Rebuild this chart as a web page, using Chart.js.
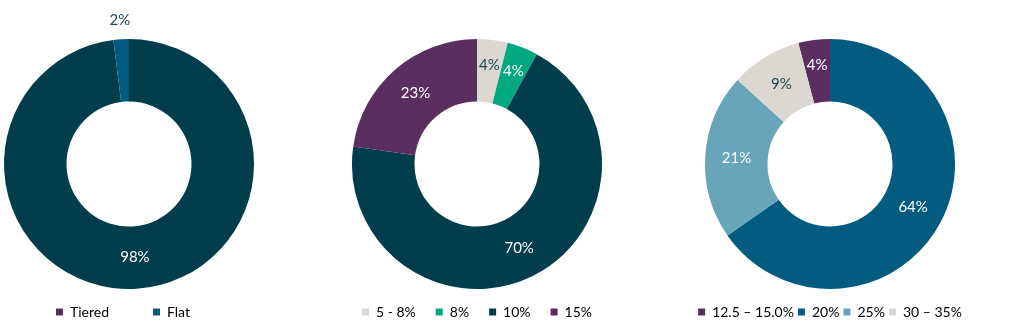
<!DOCTYPE html>
<html>
<head>
<meta charset="utf-8">
<script src="https://cdn.jsdelivr.net/npm/chart.js@4/dist/chart.umd.min.js"></script>
<style>
  html, body { margin: 0; padding: 0; background: #fff; overflow: hidden; }
  body { width: 1024px; height: 331px; position: relative; }
  .box { position: absolute; top: 0; width: 360px; height: 331px; }
</style>
</head>
<body>
<div class="box" id="b1" style="left:-51px"><canvas id="c1"></canvas></div>
<div class="box" id="b2" style="left:296.5px"><canvas id="c2"></canvas></div>
<div class="box" id="b3" style="left:650px"><canvas id="c3"></canvas></div>
<script>
// ---- data ----
const feeTypeLabels = ['Tiered', 'Flat'];
const feeTypeValues = [98, 2];

const rateLabels = ['5 - 8%', '8%', '10%', '15%'];
const rateValues = [4, 4, 70, 23];

const shareLabels = ['12.5 – 15.0%', '20%', '25%', '30 – 35%'];
const shareValues = [4, 64, 21, 9];

// ---- styles ----
const C = {
  dark: '#023d4c', blue: '#045b80', light: '#68a5bb',
  gray: '#ddd7d1', purple: '#5a2e5f', green: '#02a980',
  darkText: '#1a4757', white: '#ffffff'
};

const FONT = "Lato, 'Open Sans', sans-serif";

const arcLabels = {
  id: 'arcLabels',
  afterDatasetsDraw(chart) {
    const cfg = chart.options.plugins.arcLabels;
    const ctx = chart.ctx;
    const meta = chart.getDatasetMeta(0);
    const vals = chart.data.datasets[0].data;
    ctx.save();
    ctx.font = '400 15px ' + FONT;
    ctx.textAlign = 'center';
    ctx.textBaseline = 'middle';
    meta.data.forEach((arc, i) => {
      const p = arc.getProps(['x', 'y', 'startAngle', 'endAngle', 'innerRadius', 'outerRadius'], true);
      const mid = (p.startAngle + p.endAngle) / 2;
      let r;
      if (cfg.outside.includes(i)) r = p.outerRadius + 19;
      else if (vals[i] < 5) r = p.outerRadius * 0.8;
      else r = (p.innerRadius + p.outerRadius) / 2;
      ctx.fillStyle = cfg.colors[i];
      ctx.fillText(vals[i] + '%', p.x + Math.cos(mid) * r, p.y + Math.sin(mid) * r);
    });
    ctx.restore();
  }
};

function makeChart(id, labels, values, colors, legendColors, labelColors, outside, pad, rotation, side) {
  return new Chart(document.getElementById(id), {
    type: 'doughnut',
    data: {
      labels: labels,
      datasets: [{
        data: values,
        backgroundColor: colors,
        borderWidth: 0,
        hoverOffset: 0,
        radius: 125,
        cutout: '50%',
        clip: false
      }]
    },
    options: {
      responsive: true,
      maintainAspectRatio: false,
      animation: false,
      rotation: rotation,
      events: [],
      layout: { padding: { top: 23 + pad, bottom: 2, left: side.inset, right: side.inset } },
      plugins: {
        tooltip: { enabled: false },
        arcLabels: { colors: labelColors, outside: outside },
        legend: {
          display: true,
          position: 'bottom',
          align: side.align,
          labels: {
            boxWidth: 7,
            boxHeight: 7,
            padding: pad,
            color: '#333333',
            font: { family: FONT, size: 14 },
            generateLabels(chart) {
              return chart.data.labels.map((t, i) => ({
                text: t,
                fillStyle: legendColors[i],
                strokeStyle: legendColors[i],
                lineWidth: 0,
                hidden: false,
                index: i
              }));
            }
          }
        }
      }
    },
    plugins: [arcLabels]
  });
}

makeChart('c1', feeTypeLabels, feeTypeValues,
  [C.dark, C.blue], [C.purple, C.blue],
  [C.white, C.darkText], [1], 44, 0,
  { inset: 63, align: 'start' });

makeChart('c2', rateLabels, rateValues,
  [C.gray, C.green, C.dark, C.purple], [C.gray, C.green, C.dark, C.purple],
  [C.darkText, C.white, C.white, C.white], [], 20, 0,
  { inset: 0, align: 'center' });

const shareTotal = shareValues.reduce((a, b) => a + b, 0);
makeChart('c3', shareLabels, shareValues,
  [C.purple, C.blue, C.light, C.gray], [C.purple, C.blue, C.light, C.gray],
  [C.white, C.white, C.white, C.darkText], [], 4, -shareValues[0] / shareTotal * 360,
  { inset: 0, align: 'center' });
</script>
</body>
</html>
